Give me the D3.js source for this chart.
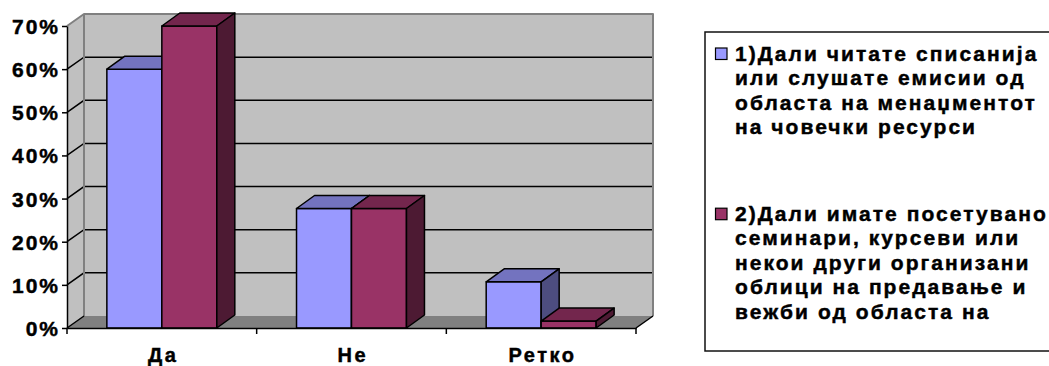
<!DOCTYPE html>
<html>
<head>
<meta charset="utf-8">
<script src="https://cdn.jsdelivr.net/npm/d3@7"></script>
<style>
  html, body { margin: 0; padding: 0; background: #ffffff; }
  svg { display: block; }
  text { font-family: "Liberation Sans", Arial, sans-serif; font-weight: bold; fill: #000; }
</style>
</head>
<body>
<svg id="chart" width="1049" height="366"></svg>
<script>
// Survey answers per category (share of respondents)
const categories = ["Да", "Не", "Ретко"];
const seriesKeys = ["q1", "q2"];
const q1Values = [0.60, 0.277, 0.107];
const q2Values = [0.70, 0.277, 0.016];
const yTickValues = [0, 0.1, 0.2, 0.3, 0.4, 0.5, 0.6, 0.7];

// Legend entries, already wrapped into lines
const q1LegendLines = [
  "1)Дали читате списанија",
  "или слушате емисии од",
  "областа на менаџментот",
  "на човечки ресурси"
];
const q2LegendLines = [
  "2)Дали имате посетувано",
  "семинари, курсеви или",
  "некои други организани",
  "облици на предавање и",
  "вежби од областа на"
];

const fronts = { q1: "#9999FF", q2: "#993366" };
const tops   = { q1: "#7373BF", q2: "#73264D" };
const sides  = { q1: "#4D4D80", q2: "#4D1A33" };

const svg = d3.select("#chart");

// heavy bold label style
function labelStyle(sel, size, ls) {
  sel.attr("font-size", size).attr("letter-spacing", ls)
    .style("font-family", "'Liberation Sans', Arial, sans-serif")
    .style("font-weight", "bold")
    .attr("fill", "#000").attr("stroke", "#000").attr("stroke-width", 0.45);
}

// front plane of the plot box
const X0 = 67, X1 = 636, Y0 = 328, Y1 = 26;
const wdx = 17, wdy = 12;   // wall depth offset
const bdx = 18, bdy = 13;   // bar depth offset

const y = d3.scaleLinear().domain([0, 0.7]).range([Y0, Y1]);
const x = d3.scaleBand().domain(categories).range([X0, X1]).padding(0);
const xs = d3.scaleBand().domain(seriesKeys).range([0, x.bandwidth()])
  .paddingInner(0).paddingOuter(0.725);

const line = d3.line();

// walls and floor
const walls = svg.append("g");
walls.append("rect")
  .attr("x", X0 + wdx).attr("y", y(0.7) - wdy)
  .attr("width", X1 - X0).attr("height", y(0) - y(0.7))
  .attr("fill", "#C0C0C0");
walls.append("path")
  .attr("d", line([[X0, y(0.7)], [X0 + wdx, y(0.7) - wdy], [X0 + wdx, y(0) - wdy], [X0, y(0)]]) + "Z")
  .attr("fill", "#C0C0C0");
walls.append("path")
  .attr("d", line([[X0, y(0)], [X0 + wdx, y(0) - wdy], [X1 + wdx, y(0) - wdy], [X1, y(0)]]) + "Z")
  .attr("fill", "#808080");

// gridlines on back wall and side wall
const grid = svg.append("g").attr("stroke", "#000").attr("stroke-width", 1.5).attr("fill", "none");
yTickValues.filter(v => v > 0 && v < 0.7).forEach(v => {
  grid.append("path").attr("d", line([[X0, y(v)], [X0 + wdx, y(v) - wdy], [X1 + wdx, y(v) - wdy]]));
});

// wall outlines
const outline = svg.append("g").attr("stroke", "#808080").attr("stroke-width", 2).attr("fill", "none")
  .attr("stroke-linejoin", "round");
outline.append("path").attr("d", line([
  [X0, y(0.7)], [X0 + wdx, y(0.7) - wdy], [X1 + wdx, y(0.7) - wdy], [X1 + wdx, y(0) - wdy]
]));
outline.append("path").attr("d", line([[X0 + wdx, y(0.7) - wdy], [X0 + wdx, y(0) - wdy]]));

// floor front diagonals
const floorEdges = svg.append("g").attr("stroke", "#000").attr("stroke-width", 1.5).attr("fill", "none");
floorEdges.append("path").attr("d", line([[X0, y(0)], [X0 + wdx, y(0) - wdy]]));
floorEdges.append("path").attr("d", line([[X1, y(0)], [X1 + wdx, y(0) - wdy]]));

// 3D columns
const bars = [];
categories.forEach((c, i) => {
  bars.push({ cat: c, key: "q1", value: q1Values[i] });
  bars.push({ cat: c, key: "q2", value: q2Values[i] });
});

const barG = svg.append("g").attr("stroke", "#000").attr("stroke-width", 1.5)
  .attr("stroke-linejoin", "round");
bars.forEach(d => {
  const bx = x(d.cat) + xs(d.key);
  const bw = xs.bandwidth();
  const yt = y(d.value);
  const yb = y(0);
  const g = barG.append("g");
  g.append("rect").attr("x", bx).attr("y", yt).attr("width", bw).attr("height", yb - yt)
    .attr("fill", fronts[d.key]);
  g.append("path").attr("d", line([[bx, yt], [bx + bdx, yt - bdy], [bx + bw + bdx, yt - bdy], [bx + bw, yt]]) + "Z")
    .attr("fill", tops[d.key]);
  g.append("path").attr("d", line([[bx + bw, yt], [bx + bw + bdx, yt - bdy], [bx + bw + bdx, yb - bdy], [bx + bw, yb]]) + "Z")
    .attr("fill", sides[d.key]);
});

// value axis
const yAxis = svg.append("g").attr("transform", `translate(${X0},0)`)
  .call(d3.axisLeft(y).tickValues(yTickValues).tickFormat(d3.format(".0%"))
    .tickSize(5).tickSizeOuter(0).tickPadding(4));
yAxis.select(".domain").attr("stroke", "#000").attr("stroke-width", 1.5);
yAxis.selectAll(".tick line").attr("stroke", "#000").attr("stroke-width", 1.5);
yAxis.selectAll(".tick text")
  .call(labelStyle, 21, 2)
  .attr("x", -9 + 2).attr("dy", "0.36em");

// category axis
const xAxis = svg.append("g").attr("transform", `translate(0,${Y0})`)
  .call(d3.axisBottom(x).tickSize(0).tickSizeOuter(0).tickPadding(20));
xAxis.select(".domain").attr("stroke", "#000").attr("stroke-width", 1.5);
xAxis.selectAll(".tick text")
  .call(labelStyle, 20, 2.5)
  .attr("x", 1.25).attr("dy", "0.71em");
const bounds = categories.map(c => x(c)).concat([X1]);
svg.append("g").selectAll("line").data(bounds).join("line")
  .attr("x1", d => d).attr("x2", d => d)
  .attr("y1", Y0).attr("y2", Y0 + 6)
  .attr("stroke", "#000").attr("stroke-width", 1.5);

// legend
const legend = svg.append("g");
legend.append("rect")
  .attr("x", 705).attr("y", 32).attr("width", 400).attr("height", 319)
  .attr("fill", "#fff").attr("stroke", "#111").attr("stroke-width", 1.5);

const lineH = 24.5;
const legendFont = 21;
const legendLS = 2.05;
const legendX = 735;

const entries = [
  { key: "q1", lines: q1LegendLines, base: 60.5 },
  { key: "q2", lines: q2LegendLines, base: 220.7 }
];
entries.forEach(e => {
  legend.append("rect")
    .attr("x", 715.5).attr("y", e.base - 12.5).attr("width", 11.5).attr("height", 11.5)
    .attr("fill", fronts[e.key]).attr("stroke", "#000").attr("stroke-width", 1.2);
  e.lines.forEach((t, k) => {
    legend.append("text")
      .attr("x", legendX).attr("y", e.base + k * lineH)
      .text(t)
      .call(labelStyle, legendFont, legendLS);
  });
});
</script>
</body>
</html>
